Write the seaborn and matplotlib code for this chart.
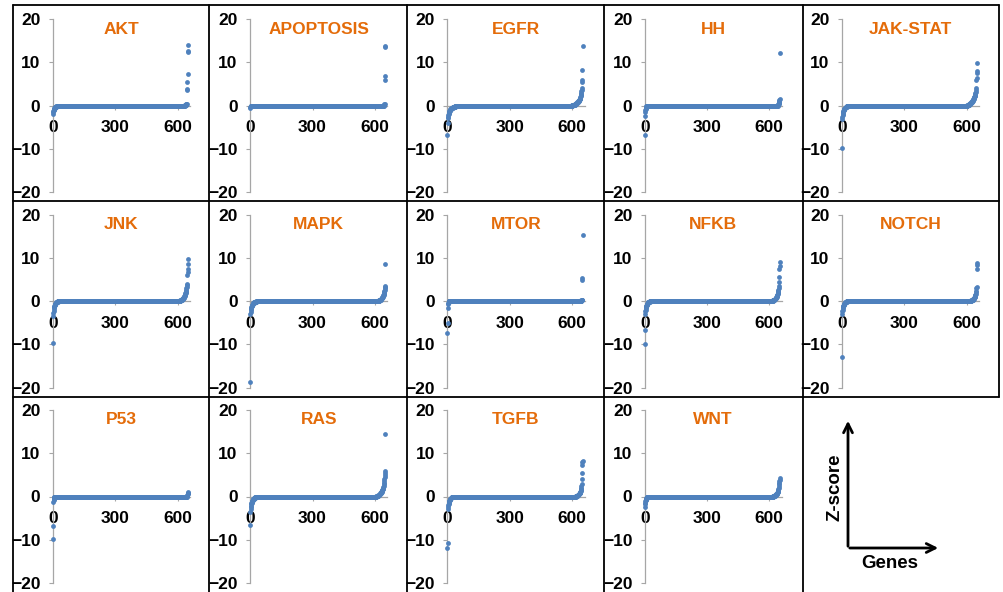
import matplotlib
matplotlib.use("Agg")
import matplotlib.pyplot as plt
import seaborn as sns
import pandas as pd

N_GENES = 652

PATHWAYS = ["AKT", "APOPTOSIS", "EGFR", "HH", "JAK-STAT",
            "JNK", "MAPK", "MTOR", "NFKB", "NOTCH",
            "P53", "RAS", "TGFB", "WNT"]

# sorted z-scores: the low tail, the high tail; everything between sits at ~0
AKT_LOW = [-2.0, -1.6, -1.3, -1.1, -0.95, -0.85, -0.75, -0.65, -0.58, -0.5, -0.45, -0.4,
           -0.35, -0.3, -0.27, -0.24, -0.21, -0.18, -0.16, -0.14, -0.12, -0.1, -0.08,
           -0.06, -0.05, -0.04, -0.03, -0.02]
AKT_HIGH = [0.05, 0.08, 0.1, 0.12, 0.15, 0.18, 0.2, 0.25, 0.3, 0.35,
            3.5, 3.8, 5.4, 7.3, 12.3, 12.5, 13.9]

APOPTOSIS_LOW = [-0.5, -0.3, -0.2, -0.1, -0.05]
APOPTOSIS_HIGH = [0.1, 0.15, 0.2, 0.3, 0.4, 6.0, 6.8, 13.5, 13.8]

EGFR_LOW = [-6.8, -4.0, -3.0, -2.6, -2.3, -2.0, -1.8, -1.6, -1.45, -1.3, -1.2, -1.1, -1.0,
            -0.95, -0.9, -0.85, -0.8, -0.75, -0.7, -0.66, -0.62, -0.58, -0.55, -0.52, -0.5,
            -0.47, -0.45, -0.42, -0.4, -0.38, -0.36, -0.34, -0.32, -0.3, -0.28, -0.26,
            -0.24, -0.22, -0.2, -0.19, -0.18, -0.17, -0.16, -0.15, -0.14, -0.13, -0.12,
            -0.11, -0.1, -0.09, -0.08, -0.07, -0.06, -0.05, -0.04, -0.03, -0.02]
EGFR_HIGH = [0.03, 0.04, 0.05, 0.06, 0.07, 0.08, 0.1, 0.12, 0.14, 0.16, 0.18, 0.2, 0.22,
             0.25, 0.28, 0.3, 0.33, 0.36, 0.4, 0.44, 0.48, 0.52, 0.56, 0.6, 0.65, 0.7, 0.75,
             0.8, 0.85, 0.9, 0.95, 1.0, 1.1, 1.2, 1.3, 1.4, 1.5, 1.6, 1.8, 2.0, 2.2, 2.4,
             2.7, 3.0, 3.3, 3.6, 4.0, 5.5, 5.8, 8.3, 13.8]

HH_LOW = [-6.8, -2.5, -1.5, -1.0, -0.7, -0.5, -0.4, -0.3, -0.2, -0.15, -0.1, -0.05]
HH_HIGH = [0.1, 0.15, 0.2, 0.3, 0.4, 0.6, 0.8, 1.0, 1.2, 1.5, 12.2]

JAK_STAT_LOW = [-9.8, -3.2, -2.6, -2.2, -1.9, -1.6, -1.4, -1.25, -1.1, -1.0, -0.9, -0.8,
                -0.72, -0.65, -0.58, -0.52, -0.47, -0.42, -0.38, -0.34, -0.3, -0.27, -0.24,
                -0.21, -0.18, -0.16, -0.14, -0.12, -0.1, -0.08, -0.07, -0.06, -0.05, -0.04,
                -0.03, -0.02]
JAK_STAT_HIGH = [0.03, 0.05, 0.08, 0.1, 0.12, 0.15, 0.18, 0.2, 0.23, 0.26, 0.3, 0.34, 0.38,
                 0.42, 0.46, 0.5, 0.55, 0.6, 0.65, 0.7, 0.76, 0.82, 0.88, 0.95, 1.02, 1.1,
                 1.18, 1.26, 1.35, 1.45, 1.55, 1.65, 1.76, 1.88, 2.0, 2.15, 2.3, 2.5, 2.7,
                 2.9, 3.2, 3.5, 4.0, 6.0, 6.3, 7.5, 8.0, 9.8]

JNK_LOW = [-9.8, -3.5, -2.7, -2.2, -1.8, -1.5, -1.3, -1.1, -0.95, -0.85, -0.75, -0.66,
           -0.58, -0.5, -0.44, -0.38, -0.33, -0.29, -0.25, -0.22, -0.19, -0.16, -0.13,
           -0.11, -0.09, -0.07, -0.05, -0.04, -0.03, -0.02]
JNK_HIGH = [0.03, 0.05, 0.08, 0.1, 0.12, 0.15, 0.18, 0.2, 0.23, 0.26, 0.3, 0.34, 0.38, 0.42,
            0.47, 0.52, 0.58, 0.64, 0.7, 0.77, 0.85, 0.93, 1.0, 1.1, 1.2, 1.3, 1.45, 1.6,
            1.75, 1.9, 2.1, 2.3, 2.6, 2.9, 3.2, 3.6, 4.0, 6.0, 6.8, 7.5, 8.5, 9.8]

MAPK_LOW = [-18.7, -3.0, -2.5, -2.1, -1.8, -1.55, -1.35, -1.2, -1.05, -0.95, -0.85, -0.76,
            -0.68, -0.61, -0.55, -0.5, -0.45, -0.41, -0.37, -0.34, -0.31, -0.28, -0.25,
            -0.23, -0.21, -0.19, -0.17, -0.15, -0.13, -0.12, -0.11, -0.1, -0.09, -0.08,
            -0.07, -0.06, -0.05, -0.04, -0.03, -0.02]
MAPK_HIGH = [0.03, 0.05, 0.08, 0.1, 0.12, 0.15, 0.18, 0.2, 0.23, 0.26, 0.3, 0.34, 0.38, 0.42,
             0.47, 0.52, 0.58, 0.64, 0.7, 0.78, 0.86, 0.95, 1.05, 1.15, 1.3, 1.45, 1.6, 1.8,
             2.0, 2.3, 2.6, 3.0, 3.3, 3.5, 8.6]

MTOR_LOW = [-7.3, -5.2, -1.6, -0.8, -0.5, -0.3, -0.2, -0.1, -0.05]
MTOR_HIGH = [0.1, 0.15, 0.2, 0.25, 0.3, 4.9, 5.4, 15.2]

NFKB_LOW = [-10.0, -6.8, -3.0, -2.4, -2.0, -1.7, -1.45, -1.25, -1.1, -0.95, -0.85, -0.75,
            -0.66, -0.58, -0.5, -0.44, -0.38, -0.33, -0.29, -0.25, -0.22, -0.19, -0.16,
            -0.13, -0.11, -0.09, -0.07, -0.05, -0.04, -0.03, -0.02]
NFKB_HIGH = [0.03, 0.05, 0.08, 0.1, 0.12, 0.15, 0.18, 0.2, 0.23, 0.26, 0.3, 0.34, 0.38,
             0.42, 0.47, 0.52, 0.58, 0.64, 0.7, 0.78, 0.86, 0.95, 1.05, 1.15, 1.3, 1.45,
             1.6, 1.8, 2.0, 2.3, 2.6, 3.0, 3.5, 4.5, 5.5, 7.5, 8.2, 9.0]

NOTCH_LOW = [-13.0, -3.0, -2.4, -2.0, -1.7, -1.45, -1.25, -1.1, -0.95, -0.85, -0.75, -0.66,
             -0.58, -0.5, -0.44, -0.38, -0.33, -0.29, -0.25, -0.22, -0.19, -0.16, -0.13,
             -0.11, -0.09, -0.07, -0.05, -0.04, -0.03, -0.02]
NOTCH_HIGH = [0.03, 0.05, 0.08, 0.1, 0.12, 0.15, 0.18, 0.2, 0.23, 0.26, 0.3, 0.34, 0.38,
              0.42, 0.47, 0.52, 0.58, 0.65, 0.72, 0.8, 0.9, 1.0, 1.15, 1.3, 1.5, 1.7, 2.0,
              2.4, 3.0, 3.3, 7.5, 8.3, 8.8]

P53_LOW = [-9.9, -6.8, -1.3, -0.8, -0.5, -0.3, -0.2, -0.1, -0.05]
P53_HIGH = [0.1, 0.2, 0.3, 0.5, 0.7, 0.9, 1.0]

RAS_LOW = [-6.5, -3.5, -2.8, -2.4, -2.1, -1.8, -1.6, -1.4, -1.25, -1.1, -1.0, -0.9, -0.8,
           -0.72, -0.65, -0.58, -0.52, -0.47, -0.42, -0.38, -0.34, -0.3, -0.27, -0.24,
           -0.21, -0.18, -0.16, -0.14, -0.12, -0.1, -0.08, -0.07, -0.06, -0.05, -0.04,
           -0.03, -0.02]
RAS_HIGH = [0.03, 0.05, 0.08, 0.1, 0.12, 0.15, 0.18, 0.2, 0.23, 0.26, 0.3, 0.34, 0.38, 0.42,
            0.46, 0.5, 0.55, 0.6, 0.65, 0.7, 0.76, 0.82, 0.88, 0.95, 1.02, 1.1, 1.2, 1.3,
            1.4, 1.5, 1.65, 1.8, 2.0, 2.2, 2.5, 2.8, 3.2, 3.6, 4.0, 4.5, 5.0, 5.5, 6.0, 14.5]

TGFB_LOW = [-11.8, -10.8, -3.0, -2.4, -2.0, -1.7, -1.45, -1.25, -1.1, -0.95, -0.85, -0.75,
            -0.66, -0.58, -0.5, -0.44, -0.38, -0.33, -0.29, -0.25, -0.22, -0.19, -0.16,
            -0.13, -0.11, -0.09, -0.07, -0.05, -0.04, -0.03, -0.02]
TGFB_HIGH = [0.03, 0.05, 0.08, 0.1, 0.12, 0.15, 0.18, 0.2, 0.23, 0.26, 0.3, 0.34, 0.38, 0.42,
             0.47, 0.52, 0.58, 0.65, 0.72, 0.8, 0.9, 1.0, 1.15, 1.3, 1.5, 1.7, 2.0, 2.4, 3.0,
             4.0, 5.5, 7.3, 8.0, 8.3]

WNT_LOW = [-2.5, -1.8, -1.4, -1.1, -0.9, -0.75, -0.62, -0.5, -0.42, -0.35, -0.28, -0.22,
           -0.17, -0.13, -0.1, -0.07, -0.05, -0.03, -0.02]
WNT_HIGH = [0.03, 0.05, 0.08, 0.1, 0.12, 0.15, 0.18, 0.2, 0.23, 0.26, 0.3, 0.34, 0.38, 0.42,
            0.47, 0.52, 0.58, 0.65, 0.72, 0.8, 0.9, 1.0, 1.15, 1.3, 1.5, 1.7, 2.0, 2.4, 2.8,
            3.2, 3.5, 3.8, 4.2]

TAILS = {
    "AKT": (AKT_LOW, AKT_HIGH), "APOPTOSIS": (APOPTOSIS_LOW, APOPTOSIS_HIGH),
    "EGFR": (EGFR_LOW, EGFR_HIGH), "HH": (HH_LOW, HH_HIGH),
    "JAK-STAT": (JAK_STAT_LOW, JAK_STAT_HIGH), "JNK": (JNK_LOW, JNK_HIGH),
    "MAPK": (MAPK_LOW, MAPK_HIGH), "MTOR": (MTOR_LOW, MTOR_HIGH),
    "NFKB": (NFKB_LOW, NFKB_HIGH), "NOTCH": (NOTCH_LOW, NOTCH_HIGH),
    "P53": (P53_LOW, P53_HIGH), "RAS": (RAS_LOW, RAS_HIGH),
    "TGFB": (TGFB_LOW, TGFB_HIGH), "WNT": (WNT_LOW, WNT_HIGH),
}

BLUE = "#4F81BD"
ORANGE = "#E46C0A"
GREY = "#A6A6A6"


def build_series(low, high):
    mid = [0.0] * (N_GENES - len(low) - len(high))
    return pd.DataFrame({"gene": range(N_GENES), "z": low + mid + high})


sns.set_theme(style="white")
plt.rcParams["font.family"] = ["Liberation Sans", "DejaVu Sans"]

W, H = 1004, 592
fig = plt.figure(figsize=(W / 100, H / 100), dpi=100)

for i, name in enumerate(PATHWAYS):
    r, c = divmod(i, 5)
    left = 53 + c * 197.25
    top = 19 + r * 195.5
    ax = fig.add_axes([left / W, 1 - (top + 173) / H, 137 / W, 173 / H])
    ax.patch.set_alpha(0)
    df = build_series(*TAILS[name])
    sns.scatterplot(data=df, x="gene", y="z", ax=ax, color=BLUE, s=12,
                    linewidth=0, clip_on=False, zorder=3)
    ax.set_xlim(0, 660)
    ax.set_ylim(-20, 20)
    ax.set_xlabel("")
    ax.set_ylabel("")
    for side in ["top", "right"]:
        ax.spines[side].set_visible(False)
    ax.spines["bottom"].set_position(("data", 0))
    for side in ["left", "bottom"]:
        ax.spines[side].set_color(GREY)
        ax.spines[side].set_linewidth(0.9)
    ax.set_yticks([-20, -10, 0, 10, 20])
    ax.set_xticks([0, 300, 600])
    ax.tick_params(axis="y", direction="out", length=3, width=0.8, color=GREY,
                   pad=6, labelsize=12.5, left=True)
    ax.tick_params(axis="x", direction="out", length=3, width=0.8, color=GREY,
                   pad=7.5, labelsize=12.5, bottom=True)
    for lab in ax.get_xticklabels() + ax.get_yticklabels():
        lab.set_fontweight("bold")
        lab.set_color("black")
        lab.set_zorder(5)
    ax.text(0.5, 1 - 10 / 173, name, transform=ax.transAxes, ha="center", va="center",
            color=ORANGE, fontweight="bold", fontsize=12.5)

# panel frame and the axis key, drawn in pixel coordinates
ov = fig.add_axes([0, 0, 1, 1])
ov.set_xlim(0, W)
ov.set_ylim(H, 0)
ov.axis("off")
ov.patch.set_alpha(0)

for x in [13, 209, 407, 604, 803]:
    ov.plot([x, x], [5, H], color="black", lw=1.3)
ov.plot([999, 999], [5, 397], color="black", lw=1.3)
for y in [5, 201, 397]:
    ov.plot([13, 999], [y, y], color="black", lw=1.3)

ov.annotate("", xy=(848, 418), xytext=(848, 549),
            arrowprops=dict(arrowstyle="->", color="black", lw=2, mutation_scale=16))
ov.annotate("", xy=(941, 548), xytext=(847, 548),
            arrowprops=dict(arrowstyle="->", color="black", lw=2, mutation_scale=16))
ov.text(835, 487, "Z-score", rotation=90, ha="center", va="center",
        fontsize=13.5, fontweight="bold", color="black")
ov.text(890, 564, "Genes", ha="center", va="center",
        fontsize=13.5, fontweight="bold", color="black")

fig.savefig("out.png", dpi=100)
